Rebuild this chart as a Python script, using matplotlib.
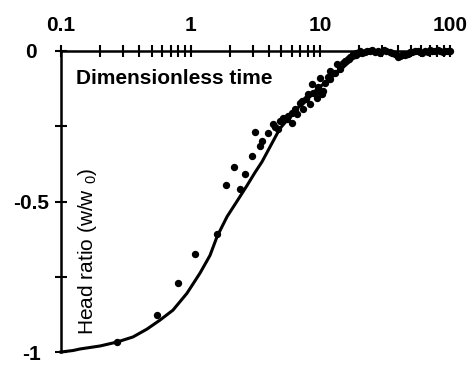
import numpy as np
import matplotlib
matplotlib.use('Agg')
import matplotlib.pyplot as plt
from matplotlib.ticker import LogLocator, NullFormatter, FixedLocator

# model curve (dimensionless time vs head ratio)
line_t = [0.1, 0.124, 0.14, 0.2, 0.27, 0.359, 0.46, 0.58, 0.73, 0.936, 1.18, 1.41, 1.6,
          1.91, 2.27, 2.72, 3.13, 3.55, 3.87, 4.87, 6.6, 8.32, 9.94, 13.4, 17.8, 22.9,
          34.4, 41.1, 58.6, 94.6]
line_h = [-1.0, -0.995, -0.99, -0.98, -0.967, -0.95, -0.924, -0.894, -0.861, -0.805,
          -0.738, -0.679, -0.616, -0.55, -0.5, -0.447, -0.404, -0.368, -0.338, -0.258,
          -0.192, -0.152, -0.119, -0.073, -0.026, -0.003, 0.0, -0.013, 0.0, 0.0]

# observed points, early (scattered) part
obs_t = [0.268, 0.55, 0.797, 1.08, 1.59, 1.88, 2.16, 2.40, 2.63, 2.96, 3.14, 3.42,
         4.30, 4.7, 5.14, 5.5, 6.03, 6.03, 6.60, 6.97, 7.36, 8.06, 8.32, 8.63, 9.46, 9.46,
         9.94, 10.3, 10.5, 11.9, 11.9, 13.0, 13.4, 14.2, 15.4, 16.5, 17.8, 19.0, 20.2, 22.9,
         25.0, 27.8, 30.9, 34.4, 37.6, 41.1, 44.9, 49.1, 53.6, 58.6, 64.0, 70.0, 76.5, 83.6,
         91.4, 100]
obs_h = [-0.967, -0.877, -0.772, -0.675, -0.609, -0.444, -0.387, -0.460, -0.407, -0.348,
         -0.268, -0.315,
         -0.242, -0.258, -0.222, -0.225, -0.238, -0.205, -0.209, -0.172, -0.192, -0.142,
         -0.175, -0.109, -0.132, -0.156, -0.089, -0.142, -0.132, -0.066, -0.093, -0.073,
         -0.043, -0.053, -0.033, -0.025, -0.010, -0.006, 0.0, 0.0,
         0.003, 0.0, 0.003, -0.003, -0.010, -0.017, -0.013, -0.003, 0.0, -0.003, 0.0,
         0.003, 0.0, 0.0, 0.0, 0.0]

# observed points, dense late part
late_t = [3.55, 3.94, 4.47, 4.88, 5.62, 6.37, 7.21, 7.74, 8.77, 9.58, 10.8, 11.4, 12.5,
          14.2, 14.9, 16.3, 16.9, 18.8, 20.9, 22.1, 24.1, 26.4, 28.8, 32.1, 35.6, 39.6,
          42.6, 47.3, 50.8, 56.6, 60.7, 67.6, 72.4, 80.7, 88.1, 96.4]
late_h = [-0.298, -0.272, -0.252, -0.232, -0.215, -0.192, -0.166, -0.159, -0.139, -0.119,
          -0.106, -0.086, -0.073, -0.060, -0.040, -0.026, -0.020, -0.013, -0.007, -0.003,
          0.0, -0.003, -0.007, 0.0, -0.007, -0.020, -0.013, -0.010, -0.003, 0.0, -0.007,
          -0.003, 0.0, 0.003, -0.003, 0.0]

x_ticks = [0.1, 1, 10, 100]
x_labels = ['0.1', '1', '10', '100']
y_ticks = [-1, -0.5, 0]
y_labels = ['-1', '-0.5', '0']

plt.rcParams['font.family'] = ['Liberation Sans', 'DejaVu Sans']

fig = plt.figure(figsize=(4.69, 3.68), dpi=100)
ax = fig.add_axes([61 / 469, 1 - 352 / 368, 389 / 469, 301 / 368])

ax.plot(line_t, line_h, color='black', lw=2.2, clip_on=False, zorder=3)
ax.scatter(obs_t + late_t, obs_h + late_h, s=28, color='black', clip_on=False, zorder=4,
           linewidths=0)

ax.set_xscale('log')
ax.set_xlim(0.1, 100)
ax.set_ylim(-1, 0)

for side in ['bottom', 'right']:
    ax.spines[side].set_visible(False)
for side in ['top', 'left']:
    ax.spines[side].set_linewidth(1.8)

ax.xaxis.tick_top()
ax.set_xticks(x_ticks)
ax.set_xticklabels(x_labels)
ax.xaxis.set_minor_locator(LogLocator(base=10, subs=np.arange(2, 10)))
ax.xaxis.set_minor_formatter(NullFormatter())
ax.set_yticks(y_ticks)
ax.set_yticklabels(y_labels)
ax.yaxis.set_minor_locator(FixedLocator([-0.75, -0.25]))

ax.tick_params(axis='x', which='major', direction='inout', length=9, width=1.5,
               pad=7, labelsize=15)
ax.tick_params(axis='x', which='minor', direction='inout', length=8, width=1.5)
ax.tick_params(axis='y', which='major', direction='inout', length=9, width=1.5,
               pad=17, labelsize=15)
ax.tick_params(axis='y', which='minor', direction='inout', length=9, width=1.5)
for lab in ax.get_xticklabels() + ax.get_yticklabels():
    lab.set_fontweight('bold')
for lab in ax.get_yticklabels():
    lab.set_horizontalalignment('center')

ax.text(0.038, 0.91, 'Dimensionless time', transform=ax.transAxes, fontsize=15,
        fontweight='bold', ha='left', va='center')
ax.text(0.069, 0.335, r'Head ratio (w/w $\mathregular{_0}$)', transform=ax.transAxes,
        fontsize=15, rotation=90, ha='center', va='center')

plt.savefig('out.png', dpi=100)
plt.close()
